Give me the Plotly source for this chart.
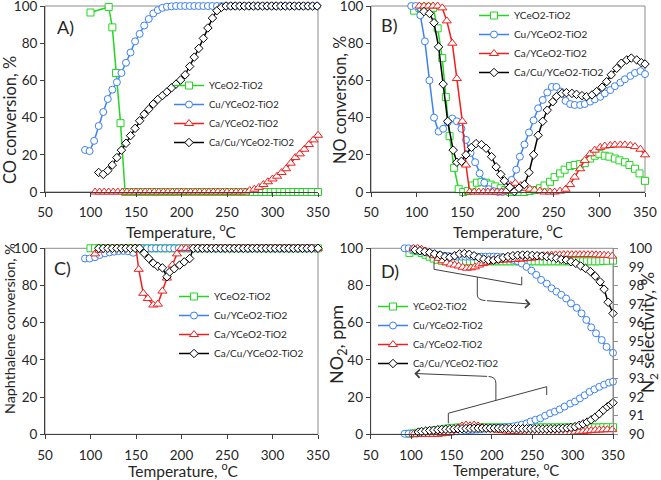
import plotly.graph_objects as go

W, H = 661, 480
GREEN = "#22D622"
BLUE = "#3C82F0"
RED = "#F01E1E"
BLACK = "#000000"
NAMES = ["YCeO2-TiO2", "Cu/YCeO2-TiO2", "Ca/YCeO2-TiO2", "Ca/Cu/YCeO2-TiO2"]

# ---------------- Panel A: CO conversion ----------------
a_green_t = [100, 120, 124, 128, 133, 138, 143, 148, 153, 158, 163, 168, 173, 178, 183, 188, 193, 198, 203, 208,
             213, 218, 223, 228, 233, 238, 243, 248, 253, 258, 263, 268, 273, 278, 283, 288, 293, 298, 303, 308,
             313, 318, 323, 328, 333, 338, 343, 350]
a_green_v = [96.5, 99.5, 88.5, 64, 37, 0, 0, 0, 0, 0, 0, 0, 0, 0, 0, 0, 0, 0, 0, 0,
             0, 0, 0, 0, 0, 0, 0, 0, 0, 0, 0, 0, 0, 0, 0, 0, 0, 0, 0, 0,
             0, 0, 0, 0, 0, 0, 0, 0]
a_blue_t = [94, 99, 104, 109, 114, 119, 124, 129, 134, 139, 144, 149, 154, 159, 164, 169, 174, 179, 184, 189,
            194, 199, 204, 209, 214, 219, 224, 229, 234, 239, 244, 249, 254, 259, 264, 269, 274, 279, 284, 289,
            294, 299, 304, 309, 314, 319, 324, 329, 334, 339, 344, 349]
a_blue_v = [22.6, 22, 27.5, 35.5, 43, 50, 55, 59, 64, 69.5, 75, 81, 85, 89.5, 93, 96, 97.8, 99, 99.6, 99.8,
            100, 100, 100, 100, 100, 100, 100, 100, 100, 100, 100, 100, 100, 100, 100, 100, 100, 100, 100, 100,
            100, 100, 100, 100, 100, 100, 100, 100, 100, 100, 100, 100]
a_red_t = [105, 110, 115, 120, 125, 130, 135, 140, 145, 150, 155, 160, 165, 170, 175, 180, 185, 190, 195, 200,
           205, 210, 215, 220, 225, 230, 235, 240, 245, 250, 255, 260, 265, 270, 275, 280, 285, 290, 295, 300,
           305, 310, 315, 320, 325, 330, 335, 340, 345, 350]
a_red_v = [0, 0, 0, 0, 0, 0, 0, 0, 0, 0, 0, 0, 0, 0, 0, 0, 0, 0, 0, 0,
           0, 0, 0, 0, 0, 0, 0, 0, 0, 0, 0, 0, 0, 0, 0.8, 1.5, 2.5, 4, 5.5, 7,
           8.5, 10.5, 12.5, 15.5, 18.5, 20.5, 23, 25.5, 28, 30.5]
a_black_t = [109, 114, 119, 124, 129, 134, 139, 144, 149, 154, 159, 164, 169, 174, 179, 184, 189, 194, 199, 204,
             209, 214, 219, 224, 229, 234, 239, 244, 249, 254, 259, 264, 269, 274, 279, 284, 289, 294, 299, 304,
             309, 314, 319, 324, 329, 334, 339, 344, 349]
a_black_v = [10.5, 9.5, 11.5, 14.5, 18.5, 22.5, 26.2, 30.3, 34.2, 38.3, 41.8, 44.5, 47.3, 49.8, 51.8, 53.8, 56, 58, 60.2, 63,
             67.5, 72.5, 77.2, 82.6, 88.2, 93.5, 97.5, 99.3, 100, 100, 100, 100, 100, 100, 100, 100, 100, 100, 100, 100,
             100, 100, 100, 100, 100, 100, 100, 100, 100]

# ---------------- Panel B: NO conversion ----------------
b_green_t = [97, 103, 108, 113, 118, 123, 128, 132, 136, 141, 146, 151, 156, 161, 166, 171, 176, 181, 186, 192,
             197, 202, 207, 213, 218, 224, 229, 235, 240, 246, 251, 257, 262, 268, 273, 279, 284, 290, 295, 300,
             306, 311, 317, 322, 328, 333, 339, 344, 350]
b_green_v = [97.5, 99, 99.5, 99.5, 99, 88, 72, 51, 30, 13, 1.5, 0, 0.5, 3.5, 5, 5.5, 5, 4, 3, 2,
             1, 0, 0, 0, 0, 0.5, 1, 2, 3.5, 5.5, 8, 10, 12, 14, 14.5, 15, 15.5, 18, 19.5, 20.5,
             19.5, 19, 18, 17, 16, 14.5, 12.5, 10, 6]
b_blue_t = [94, 99, 104, 109, 114, 119, 124, 129, 134, 139, 144, 149, 154, 159, 164, 169, 174, 179, 184, 189,
            194, 199, 204, 209, 213, 218, 223, 228, 233, 238, 243, 248, 253, 258, 263, 268, 273, 279, 284, 290,
            295, 301, 306, 312, 317, 323, 328, 334, 339, 345, 350]
b_blue_v = [100, 100, 95, 81, 60, 40, 32.5, 34, 37.5, 39.5, 38, 34, 28, 21, 16, 10, 5, 1.5, 0.5, 0,
            0, 1, 6.5, 12, 19, 25.5, 32, 38.5, 45, 49.5, 53.5, 56.5, 56.5, 54, 49, 47.3, 46.8, 46.8, 47.3, 48.6,
            49.8, 51.2, 53, 54.8, 56.9, 58.8, 60.6, 62.4, 64, 65, 63.4]
b_red_t = [103, 108, 113, 118, 123, 128, 133, 139, 144, 150, 154, 158, 163, 168, 173, 178, 183, 188, 193, 198,
           203, 208, 214, 219, 224, 229, 235, 240, 246, 251, 257, 263, 268, 273, 279, 284, 290, 295, 301, 306,
           312, 317, 323, 328, 334, 339, 345, 350]
b_red_v = [100, 100, 100, 100, 100, 99, 92, 80, 61, 38, 14.5, 0, 0, 0, 0, 0, 0, 0, 0, 0.5,
           3.5, 4.7, 3.5, 2, 1.5, 1, 0.5, 0, 0, 0, 0.5, 1.5, 4, 8, 12.5, 17, 20.5, 22.5, 24, 24.7,
           25, 25.3, 25.3, 25.3, 25, 24.4, 23, 20]
b_black_t = [108, 114, 119, 124, 129, 134, 140, 144, 149, 154, 160, 165, 171, 176, 182, 187, 192, 196, 202, 207,
             212, 218, 223, 228, 233, 238, 243, 249, 253, 259, 264, 270, 275, 281, 286, 292, 297, 303, 308, 313,
             319, 324, 330, 335, 341, 346, 350]
b_black_v = [97, 96, 91, 78, 58, 38, 22.5, 16, 16.5, 20, 24, 26, 25.5, 23.5, 19, 13.5, 9.5, 6, 2.5, 0.2,
             2, 4, 10.5, 20, 30.5, 38, 44, 48.5, 51.3, 53, 53.4, 53, 52.5, 51.8, 51.3, 52.2, 54, 56.3, 59.3, 63,
             66.5, 69.2, 71, 72, 71, 69.5, 68.8]

# ---------------- Panel C: Naphthalene conversion ----------------
c_green_t = [100, 105, 110, 115, 120, 125, 130, 135, 140, 145, 150, 155, 160, 165, 170, 175, 180, 185, 190, 195,
             200, 205, 210, 215, 220, 225, 230, 235, 240, 245, 250, 255, 260, 265, 270, 275, 280, 285, 290, 295,
             300, 305, 310, 315, 320, 325, 330, 335, 340, 345, 350]
c_green_v = [100, 100, 100, 100, 100, 100, 100, 100, 100, 100, 100, 100, 100, 100, 100, 100, 100, 100, 100, 100,
             100, 100, 100, 100, 100, 100, 100, 100, 100, 100, 100, 100, 100, 100, 100, 100, 100, 100, 100, 100,
             100, 100, 100, 100, 100, 100, 100, 100, 100, 100, 100]
c_blue_t = [94, 99, 105, 110, 116, 121, 126, 131, 136, 141, 147, 152, 157, 162, 167, 172, 177, 182, 187, 192,
            197, 202, 207, 212, 217, 222, 227, 232, 237, 242, 247, 252, 257, 262, 267, 272, 277, 282, 287, 292,
            297, 302, 307, 312, 317, 322, 327, 332, 337, 342, 347]
c_blue_v = [94.5, 94.5, 95.2, 96.4, 97.3, 97.8, 98.2, 98.5, 98.6, 98.4, 97.6, 100, 100, 100, 100, 100, 100, 100, 100, 100,
            100, 100, 100, 100, 100, 100, 100, 100, 100, 100, 100, 100, 100, 100, 100, 100, 100, 100, 100, 100,
            100, 100, 100, 100, 100, 100, 100, 100, 100, 100, 100]
c_red_t = [105, 110, 115, 120, 125, 130, 135, 140, 145, 150, 153, 158, 163, 169, 174, 179, 184, 190, 195, 200,
           205, 210, 215, 220, 225, 230, 235, 240, 245, 250, 255, 260, 265, 270, 275, 280, 285, 290, 295, 300,
           305, 310, 315, 320, 325, 330, 335, 340, 345, 350]
c_red_v = [97, 99, 100, 100, 100, 100, 100, 100, 100, 100, 88.7, 75.8, 73, 69.5, 70, 77, 84, 91, 97, 100,
           100, 100, 100, 100, 100, 100, 100, 100, 100, 100, 100, 100, 100, 100, 100, 100, 100, 100, 100, 100,
           100, 100, 100, 100, 100, 100, 100, 100, 100, 100]
c_black_t = [109, 114, 119, 124, 129, 134, 139, 144, 149, 154, 159, 164, 169, 174, 179, 184, 187, 192, 198, 203,
             209, 213, 218, 223, 228, 233, 238, 243, 248, 253, 258, 263, 268, 273, 278, 283, 288, 293, 298, 303,
             308, 313, 318, 323, 328, 333, 338, 343, 350]
c_black_v = [100, 100, 100, 100, 100, 100, 100, 100, 100, 100, 97.3, 94.6, 92, 90.3, 89.5, 84.7, 87.3, 89, 91, 92.7,
             94.5, 100, 100, 100, 100, 100, 100, 100, 100, 100, 100, 100, 100, 100, 100, 100, 100, 100, 100, 100,
             100, 100, 100, 100, 100, 100, 100, 100, 100]

# ---------------- Panel D: NO2 (left, ppm) and N2 selectivity (right, %) ----------------
d_no2_green_t = [98, 103, 108, 113, 118, 123, 128, 133, 138, 143, 148, 153, 158, 163, 168, 173, 178, 183, 188, 193,
                 198, 203, 208, 213, 218, 223, 228, 233, 238, 243, 248, 253, 258, 263, 268, 273, 278, 283, 288, 293,
                 298, 303, 308, 313, 318, 323, 328, 333, 338, 343, 350]
d_no2_green_v = [0.3, 0.5, 0.8, 1, 1.3, 1.6, 2, 2.3, 2.6, 3, 3.3, 3.5, 3.6, 3.7, 3.7, 3.7, 3.7, 3.7, 3.7, 3.7,
                 3.7, 3.7, 3.7, 3.7, 3.7, 3.7, 3.7, 3.7, 3.7, 3.7, 3.7, 3.7, 3.7, 3.7, 3.7, 3.7, 3.7, 3.7, 3.7, 3.7,
                 3.7, 3.7, 3.7, 3.7, 3.7, 3.7, 3.7, 3.7, 3.8, 3.8, 3.8]
d_no2_blue_t = [92, 97, 102, 107, 112, 117, 122, 127, 132, 137, 142, 147, 152, 157, 162, 167, 172, 177, 182, 187,
                192, 197, 202, 207, 212, 217, 222, 227, 232, 237, 243, 248, 254, 260, 266, 272, 278, 284, 290, 297,
                303, 309, 315, 321, 327, 333, 339, 345, 350]
d_no2_blue_v = [0.3, 0.3, 0.4, 0.4, 0.5, 0.6, 0.7, 0.8, 0.9, 1, 1.1, 1.2, 1.4, 1.6, 1.8, 2, 2.2, 2.4, 2.6, 2.8,
                3, 3.1, 3.3, 3.4, 3.6, 3.8, 4, 4.3, 4.7, 5.2, 5.9, 6.9, 7.8, 8.6, 10, 11.3, 12.2, 13.4, 14.9, 16.5,
                17.6, 19.3, 21, 22.8, 24.2, 25.5, 26.7, 27.8, 28.3]
d_no2_red_t = [103, 108, 113, 118, 123, 128, 133, 138, 143, 148, 153, 158, 163, 168, 173, 178, 183, 188, 193, 198,
               203, 208, 213, 218, 223, 228, 233, 238, 243, 248, 253, 258, 263, 268, 273, 278, 283, 288, 293, 298,
               303, 308, 313, 318, 323, 328, 333, 338, 343, 349]
d_no2_red_v = [0, 0, 0, 0, 0, 0, 0, 0.3, 0.5, 1, 2, 3.5, 4.5, 5, 4.6, 5, 4.5, 3.8, 3.2, 2.8,
               2.5, 2.2, 2, 1.8, 1.6, 1.5, 1.4, 1.3, 1.2, 1.1, 1, 1, 1, 1, 1, 1, 1, 1, 1, 1,
               1.2, 1.4, 1.6, 1.8, 2, 2.2, 2.3, 2.4, 2.5, 2.5]
d_no2_black_t = [109, 113, 118, 123, 128, 133, 138, 143, 148, 153, 158, 163, 168, 173, 178, 183, 188, 193, 198, 203,
                 208, 213, 218, 223, 228, 233, 238, 243, 248, 253, 258, 263, 268, 273, 278, 283, 288, 293, 298, 303,
                 308, 313, 318, 323, 328, 333, 338, 343, 347, 350]
d_no2_black_v = [1.2, 1.5, 1.7, 2, 2.2, 2.4, 2.6, 2.7, 2.8, 2.9, 3, 3, 3.1, 3.2, 3.2, 3.3, 3.3, 3.3, 3.3, 3.3,
                 3.3, 3.2, 3.2, 3.1, 3, 3, 3, 3, 3, 2.9, 2.9, 2.9, 2.9, 3, 3, 3.1, 3.2, 3.4, 3.7, 4.1,
                 4.8, 5.6, 6.6, 7.8, 9.2, 11, 13, 14.8, 16, 17]

d_sel_green_t = [98, 103, 108, 113, 118, 123, 128, 133, 138, 143, 148, 153, 158, 163, 168, 173, 178, 183, 188, 193,
                 198, 203, 208, 213, 218, 223, 228, 233, 238, 243, 248, 253, 258, 263, 268, 273, 278, 283, 288, 293,
                 298, 303, 308, 313, 318, 323, 328, 333, 338, 343, 350]
d_sel_green_v = [99.75, 99.9, 99.85, 99.75, 99.65, 99.55, 99.45, 99.38, 99.33, 99.3, 99.28, 99.27, 99.27, 99.28, 99.3, 99.3, 99.3, 99.3, 99.3, 99.3,
                 99.3, 99.3, 99.3, 99.3, 99.3, 99.3, 99.3, 99.3, 99.3, 99.3, 99.3, 99.3, 99.3, 99.3, 99.3, 99.3, 99.3, 99.3, 99.3, 99.3,
                 99.3, 99.3, 99.3, 99.3, 99.3, 99.3, 99.3, 99.3, 99.32, 99.33, 99.34]
d_sel_blue_t = [92, 97, 102, 107, 112, 117, 122, 127, 132, 137, 142, 147, 152, 157, 162, 167, 172, 177, 182, 187,
                192, 197, 202, 207, 212, 217, 222, 227, 232, 237, 243, 249, 255, 261, 268, 274, 280, 286, 292, 298,
                305, 311, 317, 323, 329, 336, 342, 350]
d_sel_blue_v = [100, 100, 99.95, 99.9, 99.85, 99.8, 99.75, 99.7, 99.65, 99.62, 99.6, 99.58, 99.56, 99.55, 99.55, 99.55, 99.55, 99.55, 99.55, 99.55,
                99.55, 99.55, 99.55, 99.55, 99.52, 99.5, 99.45, 99.38, 99.3, 99.18, 99.0, 98.8, 98.57, 98.3, 98.1, 97.85, 97.67, 97.5, 97.3, 97.04,
                96.8, 96.5, 96.15, 95.75, 95.43, 95.07, 94.7, 94.38]
d_sel_red_t = [103, 108, 113, 118, 123, 128, 134, 139, 144, 149, 154, 159, 164, 169, 174, 179, 184, 189, 194, 199,
               204, 209, 214, 219, 224, 229, 234, 239, 244, 249, 254, 259, 264, 269, 274, 279, 284, 289, 294, 299,
               304, 309, 314, 319, 324, 329, 334, 339, 344, 349]
d_sel_red_v = [100, 100, 99.95, 99.85, 99.73, 99.6, 99.46, 99.33, 99.22, 99.15, 99.1, 99.05, 98.98, 98.93, 98.95, 99.0, 99.1, 99.18, 99.25, 99.3,
               99.33, 99.35, 99.37, 99.38, 99.4, 99.4, 99.42, 99.43, 99.45, 99.47, 99.5, 99.55, 99.6, 99.62, 99.64, 99.65, 99.65, 99.66, 99.66, 99.66,
               99.66, 99.66, 99.66, 99.66, 99.66, 99.65, 99.64, 99.63, 99.62, 99.58]
d_sel_black_t = [105, 111, 117, 123, 129, 136, 142, 148, 154, 160, 166, 172, 178, 184, 190, 196, 202, 208, 214, 220,
                 226, 232, 238, 244, 250, 256, 262, 268, 274, 280, 286, 292, 298, 304, 310, 316, 322, 328, 334, 339,
                 344, 350]
d_sel_black_v = [99.91, 99.87, 99.82, 99.77, 99.7, 99.64, 99.55, 99.52, 99.6, 99.7, 99.72, 99.68, 99.6, 99.5, 99.42, 99.36, 99.36, 99.42, 99.5, 99.56,
                 99.6, 99.63, 99.64, 99.64, 99.62, 99.6, 99.58, 99.55, 99.52, 99.46, 99.4, 99.37, 99.28, 99.19, 99.05, 98.92, 98.75, 98.5, 98.2, 97.8,
                 97.1, 96.5]

STYLES = [(GREEN, "square", 7), (BLUE, "circle", 7), (RED, "triangle-up", 8), (BLACK, "diamond", 6.5)]

fig = go.Figure()


def add(x, y, idx, xa, ya, legend, showlegend=True):
    color, symbol, size = STYLES[idx]
    fig.add_trace(go.Scatter(
        x=x, y=y, name=NAMES[idx], mode="lines+markers",
        line=dict(color=color, width=1.5),
        marker=dict(symbol=symbol, size=size, color="white", line=dict(color=color, width=1)),
        xaxis=xa, yaxis=ya, legend=legend, showlegend=showlegend, cliponaxis=False))


for i, (t, v) in enumerate([(a_green_t, a_green_v), (a_blue_t, a_blue_v), (a_red_t, a_red_v), (a_black_t, a_black_v)]):
    add(t, v, i, "x", "y", "legend")
for i, (t, v) in enumerate([(b_green_t, b_green_v), (b_blue_t, b_blue_v), (b_red_t, b_red_v), (b_black_t, b_black_v)]):
    add(t, v, i, "x2", "y2", "legend2")
for i, (t, v) in enumerate([(c_green_t, c_green_v), (c_blue_t, c_blue_v), (c_red_t, c_red_v), (c_black_t, c_black_v)]):
    add(t, v, i, "x3", "y3", "legend3")
for i, (t, v) in enumerate([(d_no2_green_t, d_no2_green_v), (d_no2_blue_t, d_no2_blue_v),
                            (d_no2_red_t, d_no2_red_v), (d_no2_black_t, d_no2_black_v)]):
    add(t, v, i, "x4", "y4", "legend4", showlegend=False)
for i, (t, v) in enumerate([(d_sel_green_t, d_sel_green_v), (d_sel_blue_t, d_sel_blue_v),
                            (d_sel_red_t, d_sel_red_v), (d_sel_black_t, d_sel_black_v)]):
    add(t, v, i, "x4", "y5", "legend4")

FONT = "Lato"
TXT = "#262626"
AX = "#404040"


def px_x(p):
    return p / W


def px_y(p):
    return 1 - p / H


dom_ax = [px_x(45), px_x(318)]
dom_bx = [px_x(371), px_x(645)]
dom_dx = [px_x(370.7), px_x(613)]
dom_top = [px_y(192), px_y(6)]
dom_bot = [px_y(434.3), px_y(248.3)]


def xaxis(domain, anchor):
    return dict(domain=domain, anchor=anchor, range=[50, 350], tick0=50, dtick=50, automargin=False,
                showline=True, linecolor=AX, linewidth=1, ticks="outside", ticklen=4, tickcolor=AX,
                showgrid=False, zeroline=False, tickfont=dict(size=13.5, color=TXT, family=FONT),
                ticklabelstandoff=4, ticklabeloverflow="allow")


def yaxis(domain, anchor, rng=(0, 100), dtick=20, side="left", overlaying=None, lc=AX, standoff=0):
    d = dict(domain=domain, anchor=anchor, range=list(rng), tick0=rng[0], dtick=dtick, side=side,
             automargin=False,
             showline=True, linecolor=lc, linewidth=1, ticks="outside", ticklen=4, tickcolor=lc,
             showgrid=False, zeroline=False, tickfont=dict(size=13.5, color=TXT, family=FONT),
             ticklabelstandoff=standoff, ticklabeloverflow="allow")
    if overlaying:
        d["overlaying"] = overlaying
        d.pop("domain")
    return d


def legend(x, y, size):
    return dict(x=x, y=y, xanchor="left", yanchor="top", bgcolor="rgba(0,0,0,0)", borderwidth=0,
                font=dict(size=size, color=TXT, family=FONT), tracegroupgap=0, itemwidth=30)


fig.update_layout(
    width=W, height=H, margin=dict(l=0, r=0, t=0, b=0, pad=0, autoexpand=False),
    paper_bgcolor="white", plot_bgcolor="white",
    font=dict(family=FONT, color=TXT),
    xaxis=xaxis(dom_ax, "y"), yaxis=yaxis(dom_top, "x"),
    xaxis2=xaxis(dom_bx, "y2"), yaxis2=yaxis(dom_top, "x2"),
    xaxis3=xaxis(dom_ax, "y3"), yaxis3=yaxis(dom_bot, "x3"),
    xaxis4=xaxis(dom_dx, "y4"), yaxis4=yaxis(dom_bot, "x4"),
    yaxis5=yaxis(dom_bot, "x4", rng=(90, 100), dtick=1, side="right", overlaying="y4", lc="#8c8c8c",
                 standoff=8),
    legend=legend(px_x(169), px_y(71), 9.5),
    legend2=legend(px_x(474), px_y(1), 10),
    legend3=legend(px_x(174), px_y(282), 10),
    legend4=legend(px_x(373), px_y(292), 9.5),
    showlegend=True,
)

# plot-area frames (grey top/right borders)
shapes = []
for xr, yr in [("x", "y"), ("x2", "y2"), ("x3", "y3"), ("x4", "y4")]:
    shapes.append(dict(type="rect", xref=xr + " domain", yref=yr + " domain", x0=0, x1=1, y0=0, y1=1,
                       line=dict(color="#8c8c8c", width=1), layer="below"))

# braces in panel D (axis coordinates of x4 / y4)
BR = dict(color="#404040", width=1)
shapes.append(dict(type="path", xref="x4", yref="y4", line=BR,
                   path="M128.4,92.6 L128.4,88.7 L237,80.3 L237,84.7"))
shapes.append(dict(type="path", xref="x4", yref="y4", line=BR,
                   path="M182,84.5 L182,75 Q182,72.2 192,71.9"))
shapes.append(dict(type="path", xref="x4", yref="y4", line=BR,
                   path="M146.1,5.9 L146.1,11.3 L267.9,25.6 L267.9,21.1"))
shapes.append(dict(type="path", xref="x4", yref="y4", line=BR,
                   path="M205,18.3 L205,27.5 Q205,30.8 196,31.1"))
fig.update_layout(shapes=shapes)

XT = "Temperature, <sup>o</sup>C"


def label(x, y, text, size, angle=0):
    return dict(x=px_x(x), y=px_y(y), xref="paper", yref="paper", text=text, showarrow=False,
                xanchor="center", yanchor="middle", textangle=angle,
                font=dict(size=size, color=TXT, family=FONT))


ann = [
    label(65, 27, "A)", 18),
    label(389, 25, "B)", 18),
    label(62, 268, "C)", 18),
    label(390, 271, "D)", 18),
    label(181.5, 230, XT, 15.5),
    label(508, 230, XT, 15.5),
    label(183, 469.5, XT, 15.5),
    label(506, 469.5, XT, 15),
    label(10, 120, "CO conversion, %", 16.5, -90),
    label(339, 100, "NO conversion, %", 16.3, -90),
    label(9, 329, "Naphthalene conversion, %", 14.3, -90),
    label(337, 345, "NO<sub>2</sub>, ppm", 18, -90),
    label(649, 333, "N<sub>2</sub> selectivity, %", 17, -90),
    dict(x=248, y=70, ax=192, ay=71.9, xref="x4", yref="y4", axref="x4", ayref="y4", text="",
         showarrow=True, arrowhead=4, arrowsize=1.6, arrowwidth=1, arrowcolor="#404040"),
    dict(x=104, y=32.7, ax=196, ay=31.1, xref="x4", yref="y4", axref="x4", ayref="y4", text="",
         showarrow=True, arrowhead=4, arrowsize=1.6, arrowwidth=1, arrowcolor="#404040"),
]
fig.update_layout(annotations=ann)

fig.write_html("out.html", config={"displayModeBar": False},
               post_script="document.body.style.margin='0';document.body.style.padding='0';")
